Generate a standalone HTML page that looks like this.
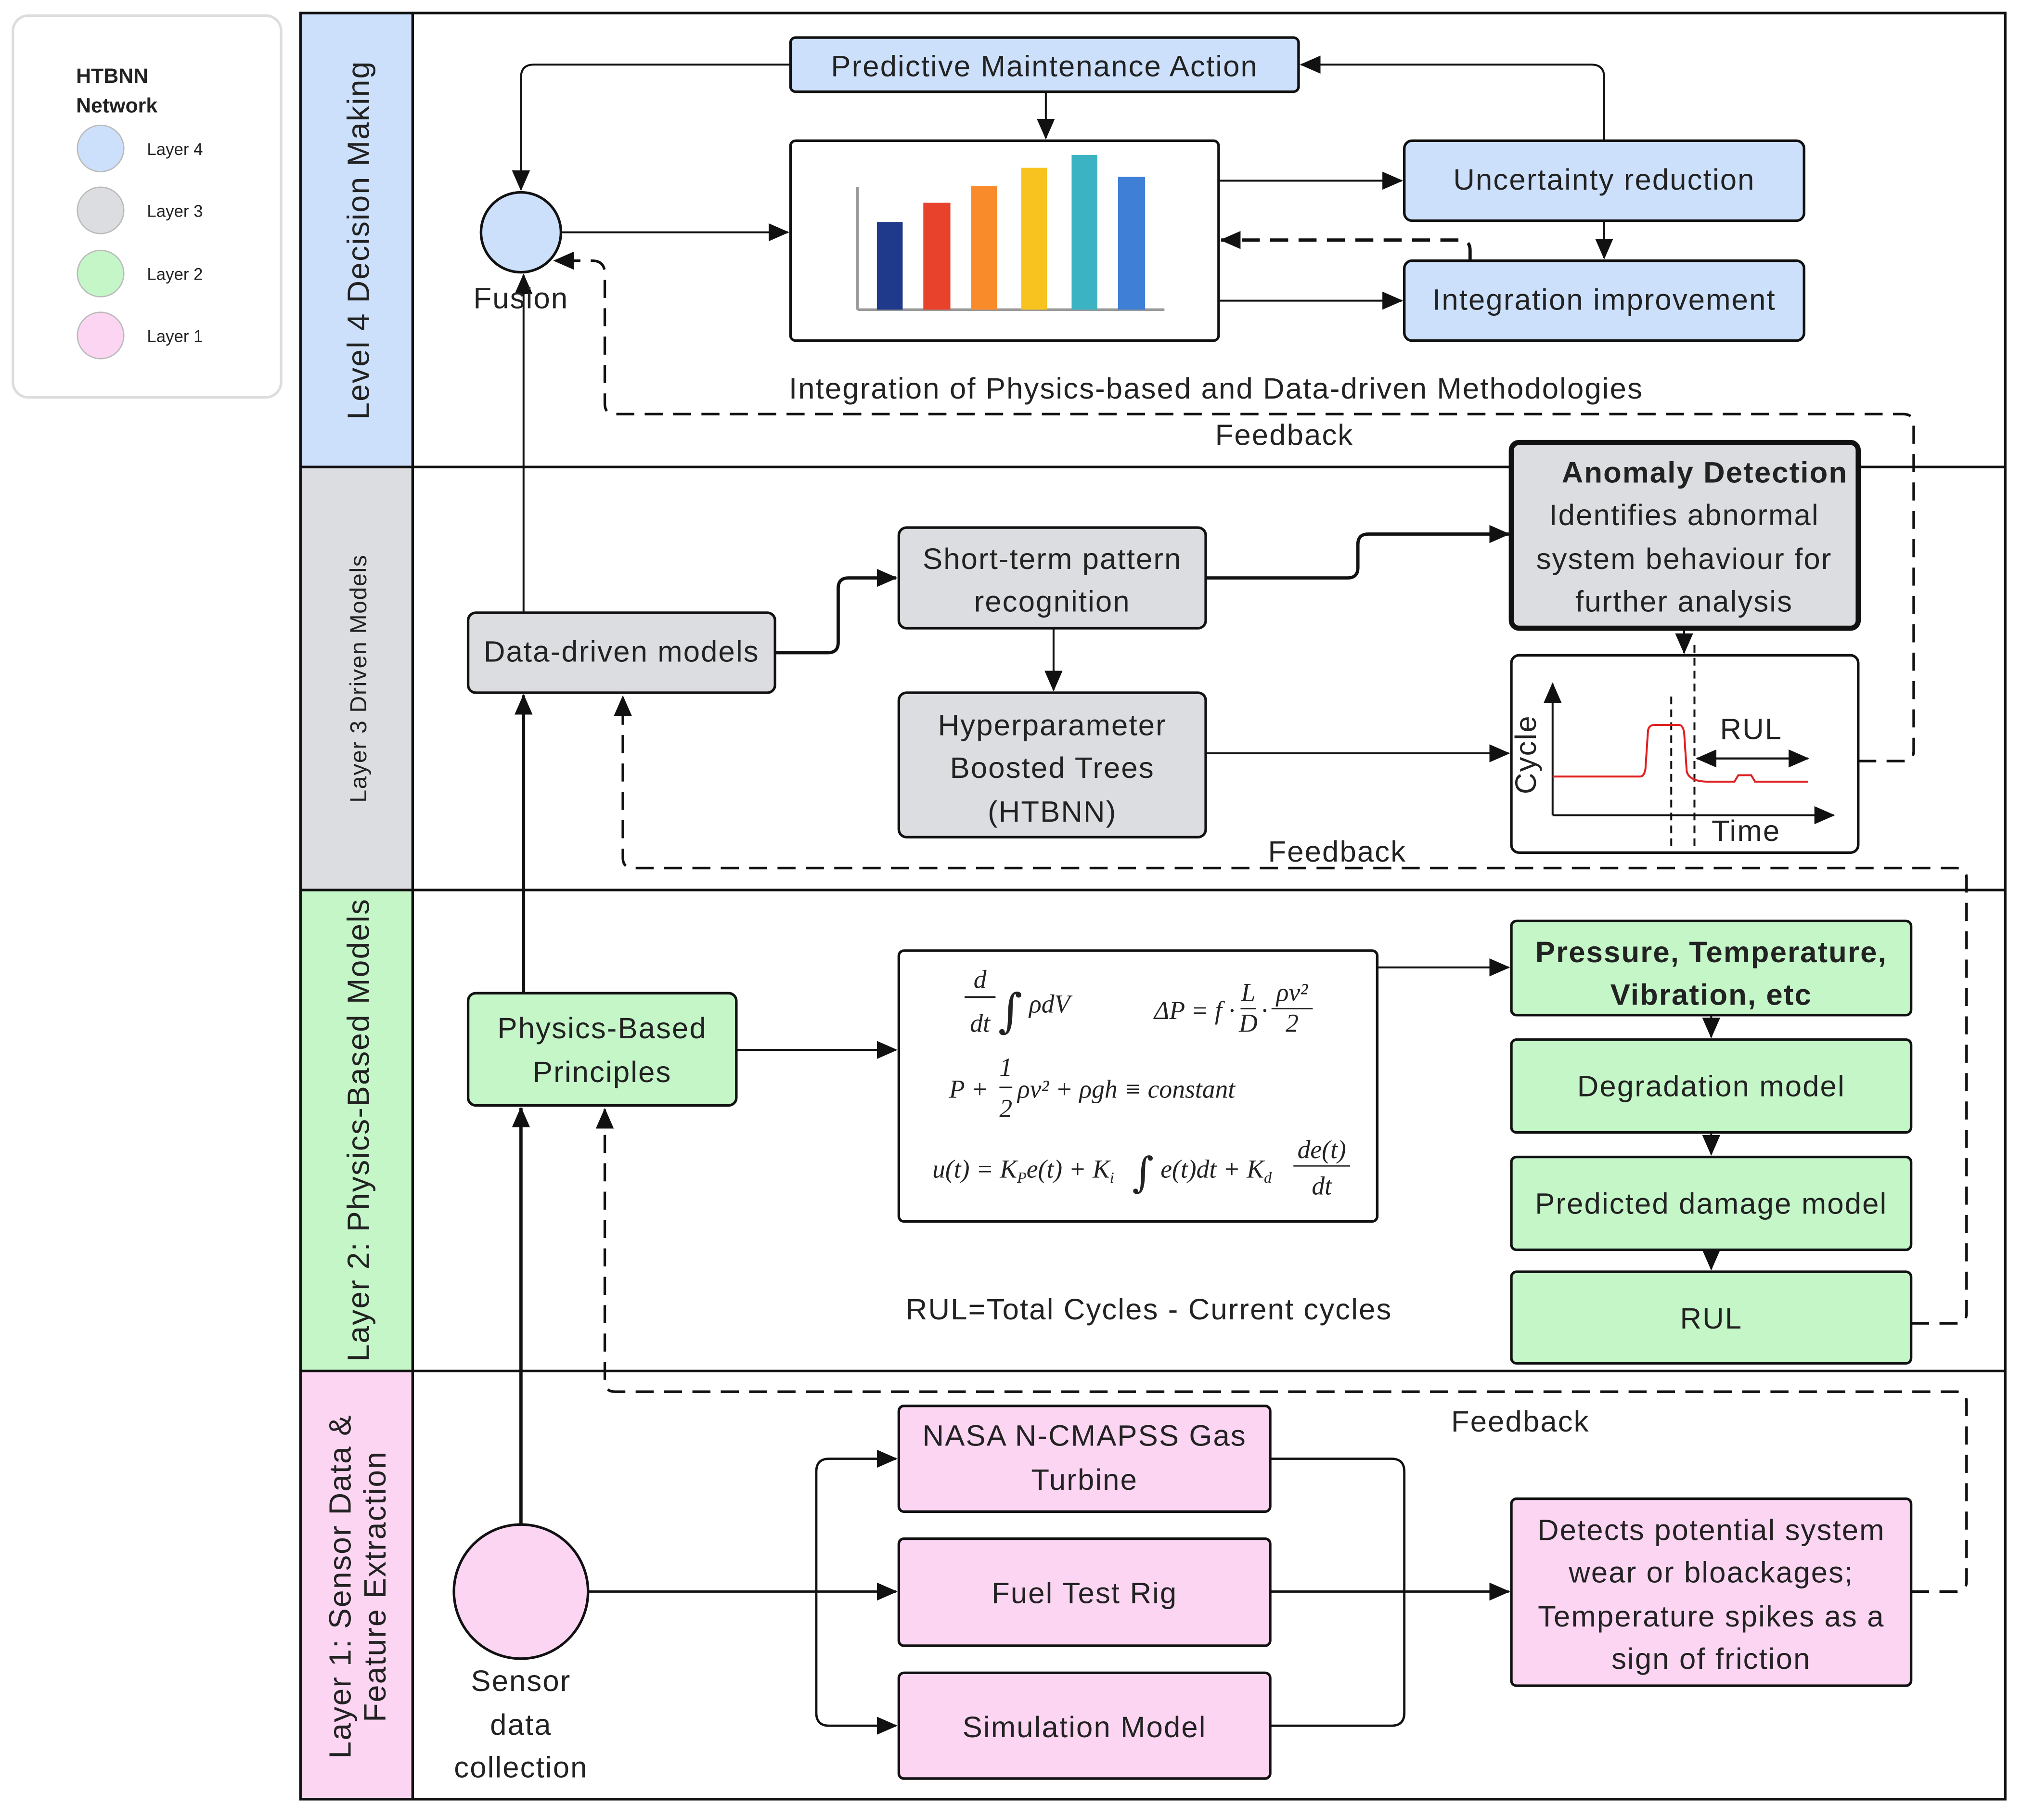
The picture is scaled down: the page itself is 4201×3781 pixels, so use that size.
<!DOCTYPE html>
<html><head><meta charset="utf-8"><style>
html,body{margin:0;padding:0;background:#fff;}
svg{display:block;}
text{font-family:"Liberation Sans",sans-serif;fill:#222;}
.n{font-size:23px;text-anchor:middle;letter-spacing:0.8px;}
.m{font-family:"Liberation Serif",serif;font-style:italic;font-size:20px;fill:#222;}
.i{font-family:"DejaVu Serif",serif;font-style:normal;fill:#222;}
</style></head><body>
<svg width="4201" height="3781" viewBox="0 0 1568 1411" xmlns="http://www.w3.org/2000/svg">
<defs>
<marker id="a" markerWidth="16" markerHeight="14" refX="15" refY="7" orient="auto" markerUnits="userSpaceOnUse"><path d="M0,0 L16,7 L0,14 Z" fill="#111"/></marker>
</defs>
<rect width="1568" height="1411" fill="#fff"/>
<!-- legend -->
<rect x="10" y="12" width="208" height="296" rx="12" fill="#fff" stroke="#ddd" stroke-width="2"/>
<text x="59" y="64" font-size="16" font-weight="bold">HTBNN</text>
<text x="59" y="87" font-size="16" font-weight="bold">Network</text>
<circle cx="78" cy="115" r="18" fill="#cce0fb" stroke="#bbb"/><text x="114" y="120" font-size="13">Layer 4</text>
<circle cx="78" cy="163" r="18" fill="#dcdde0" stroke="#bbb"/><text x="114" y="168" font-size="13">Layer 3</text>
<circle cx="78" cy="212" r="18" fill="#c4f6c8" stroke="#bbb"/><text x="114" y="217" font-size="13">Layer 2</text>
<circle cx="78" cy="260" r="18" fill="#fcd5f3" stroke="#bbb"/><text x="114" y="265" font-size="13">Layer 1</text>
<!-- lanes -->
<rect x="233" y="10" width="87" height="352" fill="#cce0fb"/>
<rect x="233" y="362" width="87" height="328" fill="#dcdde0"/>
<rect x="233" y="690" width="87" height="373" fill="#c4f6c8"/>
<rect x="233" y="1063" width="87" height="332" fill="#fcd5f3"/>
<rect x="233" y="10" width="1322" height="1385" fill="none" stroke="#111" stroke-width="2"/>
<line x1="320" y1="10" x2="320" y2="1395" stroke="#111" stroke-width="2"/>
<line x1="233" y1="362" x2="1555" y2="362" stroke="#111" stroke-width="2"/>
<line x1="233" y1="690" x2="1555" y2="690" stroke="#111" stroke-width="2"/>
<line x1="233" y1="1063" x2="1555" y2="1063" stroke="#111" stroke-width="2"/>
<text transform="translate(286,186) rotate(-90)" font-size="24" text-anchor="middle" letter-spacing="0.8">Level 4 Decision Making</text>
<text transform="translate(284,526) rotate(-90)" font-size="18" text-anchor="middle" letter-spacing="0.6">Layer 3 Driven Models</text>
<text transform="translate(286,876) rotate(-90)" font-size="24" text-anchor="middle" letter-spacing="0.8">Layer 2: Physics-Based Models</text>
<text transform="translate(272,1230) rotate(-90)" font-size="24" text-anchor="middle" letter-spacing="0.8">Layer 1: Sensor Data &amp;</text>
<text transform="translate(299,1230) rotate(-90)" font-size="24" text-anchor="middle" letter-spacing="0.8">Feature Extraction</text>

<g stroke="#111" stroke-width="1.5" fill="none">
<path d="M613,50 H414 Q404,50 404,60 V147" marker-end="url(#a)"/>
<path d="M811,71 V107" marker-end="url(#a)"/>
<path d="M1244,109 V60 Q1244,50 1234,50 H1009" marker-end="url(#a)"/>
<path d="M1244,171 V200" marker-end="url(#a)"/>
<path d="M945,140 H1087" marker-end="url(#a)"/>
<path d="M945,233 H1087" marker-end="url(#a)"/>
<path d="M1140,202 V194 Q1140,186 1132,186 H947" stroke-dasharray="14,8" stroke-width="2.5" marker-end="url(#a)"/>
<path d="M435,180 H611" marker-end="url(#a)"/>
<path d="M406,475 V213" marker-end="url(#a)"/>
<path d="M1441,590 H1476 Q1484,590 1484,582 V329 Q1484,321 1476,321 H477 Q469,321 469,313 V212 Q469,202 459,202 H430" stroke-dasharray="14,8" stroke-width="2" marker-end="url(#a)"/>
<path d="M601,506 H642 Q650,506 650,498 V456 Q650,448 658,448 H695" stroke-width="2.5" marker-end="url(#a)"/>
<path d="M935,448 H1045 Q1053,448 1053,440 V422 Q1053,414 1061,414 H1170" stroke-width="2.5" marker-end="url(#a)"/>
<path d="M817,487 V535" marker-end="url(#a)"/>
<path d="M935,584 H1170" marker-end="url(#a)"/>
<path d="M1306,487 V506" marker-end="url(#a)"/>
<path d="M1482,1026 H1517 Q1525,1026 1525,1018 V681 Q1525,673 1517,673 H491 Q483,673 483,665 V540" stroke-dasharray="14,8" stroke-width="2" marker-end="url(#a)"/>
<path d="M406,770 V539" stroke-width="2.5" marker-end="url(#a)"/>
<path d="M571,814 H695" marker-end="url(#a)"/>
<path d="M1068,750 H1170" marker-end="url(#a)"/>
<path d="M1327,787 V804" marker-end="url(#a)"/>
<path d="M1327,878 V895" marker-end="url(#a)"/>
<path d="M1327,969 V984" marker-end="url(#a)"/>
<path d="M404,1182 V859" stroke-width="2.5" marker-end="url(#a)"/>
<path d="M1482,1234 H1517 Q1525,1234 1525,1226 V1087 Q1525,1079 1517,1079 H477 Q469,1079 469,1071 V860" stroke-dasharray="14,8" stroke-width="2" marker-end="url(#a)"/>
<path d="M456,1234 H695" stroke-width="1.8" marker-end="url(#a)"/>
<path d="M695,1131 H643 Q633,1131 633,1141 V1328 Q633,1338 643,1338 H695" stroke-width="1.8"/>
<path d="M660,1131 H695" marker-end="url(#a)"/>
<path d="M660,1338 H695" marker-end="url(#a)"/>
<path d="M985,1131 H1079 Q1089,1131 1089,1141 V1328 Q1089,1338 1079,1338 H985" stroke-width="1.8"/>
<path d="M985,1234 H1170" stroke-width="1.8" marker-end="url(#a)"/>
</g>

<rect x="613" y="29" width="394" height="42" rx="4" fill="#cce0fb" stroke="#111" stroke-width="2"/>
<text x="810" y="59" class="n">Predictive Maintenance Action</text>
<rect x="613" y="109" width="332" height="155" rx="4" fill="#fff" stroke="#111" stroke-width="2"/>
<line x1="665" y1="145" x2="665" y2="240" stroke="#999" stroke-width="2"/>
<line x1="665" y1="240" x2="903" y2="240" stroke="#999" stroke-width="2"/>
<rect x="680" y="172" width="20" height="68" fill="#1f3a8a"/>
<rect x="716" y="157" width="21" height="83" fill="#e8412c"/>
<rect x="753" y="144" width="20" height="96" fill="#f98b2a"/>
<rect x="792" y="130" width="20" height="110" fill="#f8c31f"/>
<rect x="831" y="120" width="20" height="120" fill="#3bb3c3"/>
<rect x="867" y="137" width="21" height="103" fill="#3f7fd6"/>
<rect x="1089" y="109" width="310" height="62" rx="6" fill="#cce0fb" stroke="#111" stroke-width="2"/>
<text x="1244" y="147" class="n">Uncertainty reduction</text>
<rect x="1089" y="202" width="310" height="62" rx="6" fill="#cce0fb" stroke="#111" stroke-width="2"/>
<text x="1244" y="240" class="n">Integration improvement</text>
<circle cx="404" cy="180" r="31" fill="#cce0fb" stroke="#111" stroke-width="2"/>
<text x="404" y="239" class="n">Fusion</text>
<text x="943" y="309" class="n">Integration of Physics-based and Data-driven Methodologies</text>
<text x="996" y="345" class="n">Feedback</text>

<rect x="1172" y="343" width="269" height="144" rx="6" fill="#dcdde0" stroke="#111" stroke-width="4"/>
<text x="1322" y="374" class="n" font-weight="bold">Anomaly Detection</text>
<text x="1306" y="407" class="n">Identifies abnormal</text>
<text x="1306" y="441" class="n">system behaviour for</text>
<text x="1306" y="474" class="n">further analysis</text>
<rect x="697" y="409" width="238" height="78" rx="6" fill="#dcdde0" stroke="#111" stroke-width="2"/>
<text x="816" y="441" class="n">Short-term pattern</text>
<text x="816" y="474" class="n">recognition</text>
<rect x="363" y="475" width="238" height="62" rx="6" fill="#dcdde0" stroke="#111" stroke-width="2"/>
<text x="482" y="513" class="n">Data-driven models</text>
<rect x="697" y="537" width="238" height="112" rx="6" fill="#dcdde0" stroke="#111" stroke-width="2"/>
<text x="816" y="570" class="n">Hyperparameter</text>
<text x="816" y="603" class="n">Boosted Trees</text>
<text x="816" y="637" class="n">(HTBNN)</text>
<rect x="1172" y="508" width="269" height="153" rx="6" fill="#fff" stroke="#111" stroke-width="2"/>
<g stroke="#111" stroke-width="1.5" fill="none">
<path d="M1204,632 V530" marker-end="url(#a)"/>
<path d="M1204,632 H1422" marker-end="url(#a)"/>
<path d="M1296,540 V660 M1314,500 V660" stroke-dasharray="6,4"/>
<path d="M1318,588 H1402" marker-end="url(#a)"/>
<path d="M1400,588 H1316" marker-end="url(#a)"/>
</g>
<path d="M1204,602 H1272 Q1275,602 1276,596 L1278,566 Q1279,562 1283,562 H1302 Q1305,562 1306,568 L1308,598 Q1310,606 1325,606 H1345 L1348,601 H1358 L1361,606 H1402" fill="none" stroke="#e02020" stroke-width="1.5"/>
<text transform="translate(1191,585) rotate(-90)" class="n">Cycle</text>
<text x="1358" y="573" class="n">RUL</text>
<text x="1354" y="652" class="n">Time</text>
<text x="1037" y="668" class="n">Feedback</text>

<rect x="363" y="770" width="208" height="87" rx="6" fill="#c4f6c8" stroke="#111" stroke-width="2"/>
<text x="467" y="805" class="n">Physics-Based</text>
<text x="467" y="839" class="n">Principles</text>
<rect x="697" y="737" width="371" height="210" rx="4" fill="#fff" stroke="#111" stroke-width="2"/>
<text x="760" y="766" class="m" font-size="22" text-anchor="middle">d</text>
<line x1="748" y1="773" x2="772" y2="773" stroke="#222" stroke-width="1.4"/>
<text x="760" y="800" class="m" font-size="22" text-anchor="middle">dt</text>
<text x="774" y="796" class="i" font-size="36">∫</text>
<text x="798" y="785" class="m" font-size="23">ρdV</text>
<text x="895" y="790" class="m" font-size="16">ΔP = f ·</text>
<text x="968" y="776" class="m" font-size="15" text-anchor="middle">L</text>
<line x1="962" y1="782" x2="974" y2="782" stroke="#222"/>
<text x="968" y="800" class="m" font-size="15" text-anchor="middle">D</text>
<text x="978" y="790" class="m" font-size="16">·</text>
<text x="1002" y="776" class="m" font-size="15" text-anchor="middle">ρv²</text>
<line x1="986" y1="782" x2="1018" y2="782" stroke="#222"/>
<text x="1002" y="800" class="m" font-size="15" text-anchor="middle">2</text>
<text x="736" y="851" class="m" font-size="21">P +</text>
<text x="780" y="834" class="m" font-size="18" text-anchor="middle">1</text>
<line x1="775" y1="843" x2="785" y2="843" stroke="#222"/>
<text x="780" y="866" class="m" font-size="18" text-anchor="middle">2</text>
<text x="789" y="851" class="m" font-size="21">ρv² + ρgh ≡ constant</text>
<text x="723" y="913" class="m" font-size="19">u(t) = K<tspan font-size="12" dy="4">P</tspan><tspan dy="-4">e(t) + K</tspan><tspan font-size="12" dy="4">i</tspan></text>
<text x="878" y="920" class="i" font-size="32">∫</text>
<text x="900" y="913" class="m" font-size="19">e(t)dt + K<tspan font-size="12" dy="4">d</tspan></text>
<text x="1025" y="898" class="m" font-size="19" text-anchor="middle">de(t)</text>
<line x1="1003" y1="904" x2="1047" y2="904" stroke="#222"/>
<text x="1025" y="926" class="m" font-size="19" text-anchor="middle">dt</text>
<rect x="1172" y="714" width="310" height="73" rx="4" fill="#c4f6c8" stroke="#111" stroke-width="2"/>
<text x="1327" y="746" class="n" font-weight="bold" letter-spacing="0.3">Pressure, Temperature,</text>
<text x="1327" y="779" class="n" font-weight="bold">Vibration, etc</text>
<rect x="1172" y="806" width="310" height="72" rx="4" fill="#c4f6c8" stroke="#111" stroke-width="2"/>
<text x="1327" y="850" class="n">Degradation model</text>
<rect x="1172" y="897" width="310" height="72" rx="4" fill="#c4f6c8" stroke="#111" stroke-width="2"/>
<text x="1327" y="941" class="n">Predicted damage model</text>
<rect x="1172" y="986" width="310" height="71" rx="4" fill="#c4f6c8" stroke="#111" stroke-width="2"/>
<text x="1327" y="1030" class="n">RUL</text>
<text x="891" y="1023" class="n">RUL=Total Cycles - Current cycles</text>

<rect x="697" y="1090" width="288" height="82" rx="4" fill="#fcd5f3" stroke="#111" stroke-width="2"/>
<text x="841" y="1121" class="n">NASA N-CMAPSS Gas</text>
<text x="841" y="1155" class="n">Turbine</text>
<rect x="697" y="1193" width="288" height="83" rx="4" fill="#fcd5f3" stroke="#111" stroke-width="2"/>
<text x="841" y="1243" class="n">Fuel Test Rig</text>
<rect x="697" y="1297" width="288" height="82" rx="4" fill="#fcd5f3" stroke="#111" stroke-width="2"/>
<text x="841" y="1347" class="n">Simulation Model</text>
<rect x="1172" y="1162" width="310" height="145" rx="4" fill="#fcd5f3" stroke="#111" stroke-width="2"/>
<text x="1327" y="1194" class="n">Detects potential system</text>
<text x="1327" y="1227" class="n">wear or bloackages;</text>
<text x="1327" y="1261" class="n">Temperature spikes as a</text>
<text x="1327" y="1294" class="n">sign of friction</text>
<circle cx="404" cy="1234" r="52" fill="#fcd5f3" stroke="#111" stroke-width="2"/>
<text x="404" y="1311" class="n">Sensor</text>
<text x="404" y="1345" class="n">data</text>
<text x="404" y="1378" class="n">collection</text>
<text x="1179" y="1110" class="n">Feedback</text>
</svg>
</body></html>
